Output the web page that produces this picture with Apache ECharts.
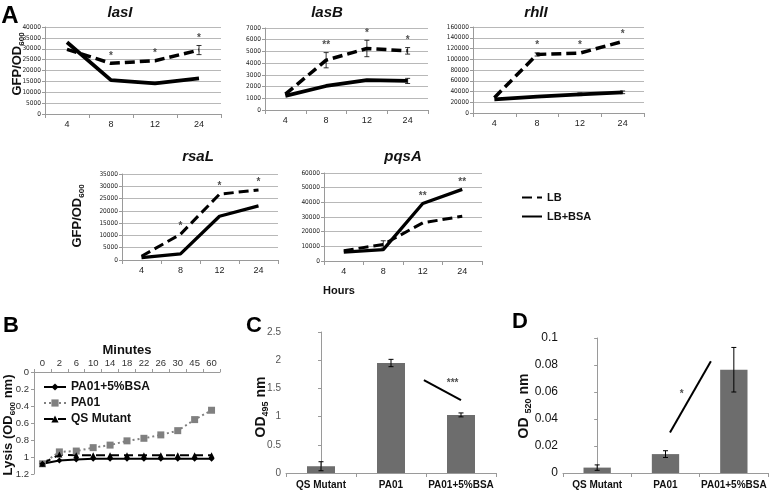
<!DOCTYPE html>
<html><head><meta charset="utf-8">
<script src="https://cdn.jsdelivr.net/npm/echarts@6/dist/echarts.min.js"></script>
<style>html,body{margin:0;padding:0;background:#fff}#c{width:774px;height:490px}</style>
</head><body><div id="c"></div>
<script>
// ---------- DATA ----------
const hours = ['4', '8', '12', '24'];
// Panel A (GFP/OD600)
const lasI_LB = [29700, 23300, 24500, 29400];
const lasI_LB_err = [0, 0, 0, 2100];
const lasI_BSA = [33000, 15600, 14100, 16400];
const lasI_BSA_err = [0, 0, 0, 0];
const lasI_stars = ['', '*', '*', '*'];

const lasB_LB = [1350, 4250, 5250, 5050];
const lasB_LB_err = [0, 650, 700, 280];
const lasB_BSA = [1200, 2050, 2550, 2480];
const lasB_BSA_err = [0, 0, 0, 220];
const lasB_stars = ['', '**', '*', '*'];

const rhlI_LB = [28500, 109000, 111500, 133000];
const rhlI_LB_err = [0, 3000, 0, 0];
const rhlI_BSA = [25500, 30500, 34800, 38500];
const rhlI_BSA_err = [0, 0, 2500, 2500];
const rhlI_stars = ['', '*', '*', '*'];

const rsaL_LB = [1500, 10500, 26800, 28500];
const rsaL_LB_err = [0, 0, 0, 0];
const rsaL_BSA = [1000, 2500, 17800, 22000];
const rsaL_BSA_err = [0, 0, 0, 0];
const rsaL_stars = ['', '*', '*', '*'];

const pqsA_LB = [7000, 11300, 26000, 30500];
const pqsA_LB_err = [0, 2500, 0, 0];
const pqsA_BSA = [6000, 7800, 39200, 48800];
const pqsA_BSA_err = [0, 0, 0, 0];
const pqsA_stars = ['', '', '**', '**'];

// Panel B (lysis, OD600)
const minutes = ['0', '2', '6', '10', '14', '18', '22', '26', '30', '45', '60'];
const lysis_BSA = [1.08, 1.04, 1.03, 1.02, 1.02, 1.02, 1.02, 1.02, 1.02, 1.02, 1.02];
const lysis_PA01 = [1.08, 0.94, 0.93, 0.89, 0.86, 0.81, 0.78, 0.74, 0.69, 0.56, 0.45];
const lysis_QS = [1.08, 0.97, 0.98, 0.98, 0.98, 0.98, 0.98, 0.98, 0.98, 0.98, 0.98];

// Panels C and D
const strains = ['QS Mutant', 'PA01', 'PA01+5%BSA'];
const od495 = [0.12, 1.95, 1.03];
const od495_err = [0.08, 0.065, 0.035];
const od495_sigLine = [[1.47, 1.645], [2.0, 1.29]];
const od495_sigStar = [1.88, 1.6];
const od495_sigText = '***';
const od520 = [0.004, 0.014, 0.0765];
const od520_err = [0.002, 0.0025, 0.0165];
const od520_sigLine = [[1.066, 0.030], [1.664, 0.0828]];
const od520_sigStar = [1.236, 0.058];
const od520_sigText = '*';

// ---------- CHART ----------
const FONT = '"Liberation Sans", Arial, Helvetica, sans-serif';
const NARROW = '"Liberation Sans Narrow", "DejaVu Sans Condensed", "Liberation Sans", Arial, sans-serif';
const chart = echarts.init(document.getElementById('c'), null, {renderer: 'canvas'});

const panelsA = [
  {name: 'lasI', lb: lasI_LB, lbErr: lasI_LB_err, bsa: lasI_BSA, bsaErr: lasI_BSA_err, stars: lasI_stars, starOn: 'lb', max: 40000, interval: 5000,
   grid: {left: 45, top: 27, width: 176, height: 87}, tx: 120, ty: 13, w: 3.5},
  {name: 'lasB', lb: lasB_LB, lbErr: lasB_LB_err, bsa: lasB_BSA, bsaErr: lasB_BSA_err, stars: lasB_stars, starOn: 'lb', max: 7000, interval: 1000,
   grid: {left: 265, top: 28, width: 163, height: 82}, tx: 327, ty: 13, w: 3.5},
  {name: 'rhlI', lb: rhlI_LB, lbErr: rhlI_LB_err, bsa: rhlI_BSA, bsaErr: rhlI_BSA_err, stars: rhlI_stars, starOn: 'lb', max: 160000, interval: 20000,
   grid: {left: 473, top: 27, width: 171, height: 86}, tx: 536, ty: 13, w: 3.5},
  {name: 'rsaL', lb: rsaL_LB, lbErr: rsaL_LB_err, bsa: rsaL_BSA, bsaErr: rsaL_BSA_err, stars: rsaL_stars, starOn: 'lb', max: 35000, interval: 5000,
   grid: {left: 122, top: 174, width: 156, height: 86}, tx: 198, ty: 157, w: 3},
  {name: 'pqsA', lb: pqsA_LB, lbErr: pqsA_LB_err, bsa: pqsA_BSA, bsaErr: pqsA_BSA_err, stars: pqsA_stars, starOn: 'bsa', max: 60000, interval: 10000,
   grid: {left: 324, top: 173, width: 158, height: 88}, tx: 403, ty: 157, w: 3}
];

function errRender(capW, lw) {
  return function (params, api) {
    const x = api.value(0), lo = api.value(1), hi = api.value(2);
    const a = api.coord([x, hi]), b = api.coord([x, lo]);
    const st = {stroke: '#000', lineWidth: lw};
    return {type: 'group', children: [
      {type: 'line', shape: {x1: a[0], y1: a[1], x2: b[0], y2: b[1]}, style: st},
      {type: 'line', shape: {x1: a[0] - capW, y1: a[1], x2: a[0] + capW, y2: a[1]}, style: st},
      {type: 'line', shape: {x1: b[0] - capW, y1: b[1], x2: b[0] + capW, y2: b[1]}, style: st}
    ]};
  };
}
function errData(vals, errs) {
  const out = [];
  vals.forEach((v, i) => { if (errs[i] > 0) out.push([i, v - errs[i], v + errs[i]]); });
  return out;
}
const plain = v => String(v);

const grids = [], xAxes = [], yAxes = [], series = [], graphics = [];
const gridColor = '#b8b8b8', axisColor = '#9a9a9a';

panelsA.forEach((p, k) => {
  grids.push(p.grid);
  xAxes.push({type: 'category', gridIndex: k, data: hours, boundaryGap: true,
    axisLine: {lineStyle: {color: axisColor}}, axisTick: {show: true, interval: 0, length: 4, lineStyle: {color: axisColor}},
    axisLabel: {fontSize: 9, color: '#222', margin: 6, fontFamily: FONT, interval: 0}, splitLine: {show: false}});
  yAxes.push({type: 'value', gridIndex: k, min: 0, max: p.max, interval: p.interval,
    axisLine: {show: true, lineStyle: {color: axisColor}}, axisTick: {show: true, length: 3, lineStyle: {color: axisColor}},
    axisLabel: {fontSize: 6.5, color: '#222', margin: 4, fontFamily: NARROW, formatter: plain},
    splitLine: {show: true, lineStyle: {color: gridColor, width: 1}}});
  series.push({type: 'line', name: 'LB', xAxisIndex: k, yAxisIndex: k, data: p.lb, symbol: 'none', color: '#000',
    lineStyle: {color: '#000', width: p.w, type: [10, 5], cap: 'butt'}, z: 3});
  series.push({type: 'line', name: 'LB+BSA', xAxisIndex: k, yAxisIndex: k, data: p.bsa, symbol: 'none', color: '#000',
    lineStyle: {color: '#000', width: p.w + 0.3}, z: 3});
  series.push({type: 'custom', xAxisIndex: k, yAxisIndex: k, renderItem: errRender(2.5, 0.8),
    data: errData(p.lb, p.lbErr).concat(errData(p.bsa, p.bsaErr)), z: 5, silent: true});
  const sv = p.starOn === 'lb' ? p.lb : p.bsa, se = p.starOn === 'lb' ? p.lbErr : p.bsaErr;
  series.push({type: 'scatter', xAxisIndex: k, yAxisIndex: k, symbolSize: 1, itemStyle: {color: 'rgba(0,0,0,0)'}, silent: true,
    data: sv.map((v, i) => ({value: [i, v + se[i]], label: {formatter: p.stars[i]}})),
    label: {show: true, position: 'top', distance: 2, fontSize: 10, fontWeight: 'bold', color: '#222', fontFamily: FONT}, z: 6});
  graphics.push({type: 'text', x: p.tx, y: p.ty, style: {text: p.name, font: 'italic bold 15px ' + FONT, fill: '#111', align: 'center', verticalAlign: 'middle'}});
});

// Panel B
grids.push({left: 34, top: 372, width: 186, height: 102});
xAxes.push({type: 'category', gridIndex: 5, data: minutes, position: 'top', boundaryGap: true,
  axisLine: {onZero: false, lineStyle: {color: axisColor}}, axisTick: {show: true, interval: 0, length: 3, lineStyle: {color: axisColor}},
  axisLabel: {fontSize: 9.5, color: '#333', margin: 4, fontFamily: FONT, interval: 0}});
yAxes.push({type: 'value', gridIndex: 5, inverse: true, min: 0, max: 1.2, interval: 0.2,
  axisLine: {show: true, lineStyle: {color: axisColor}}, axisTick: {show: true, length: 3, lineStyle: {color: axisColor}},
  axisLabel: {fontSize: 9.5, color: '#333', margin: 5, fontFamily: FONT}, splitLine: {show: false}});
series.push({type: 'line', name: 'PA01', xAxisIndex: 5, yAxisIndex: 5, data: lysis_PA01, symbol: 'rect', symbolSize: 7, color: '#808080',
  itemStyle: {color: '#808080'}, lineStyle: {color: '#808080', width: 2, type: [2, 3]}});
series.push({type: 'line', name: 'QS Mutant', xAxisIndex: 5, yAxisIndex: 5, data: lysis_QS, symbol: 'triangle', symbolSize: 6, color: '#000',
  itemStyle: {color: '#000'}, lineStyle: {color: '#000', width: 2, type: [9, 5]}});
series.push({type: 'line', name: 'PA01+5%BSA', xAxisIndex: 5, yAxisIndex: 5, data: lysis_BSA, symbol: 'diamond', symbolSize: 6, color: '#000',
  itemStyle: {color: '#000'}, lineStyle: {color: '#000', width: 2}});

// Panels C and D
const barColor = '#6d6d6d';
[{gi: 6, grid: {left: 286, top: 332, width: 210, height: 141}, vals: od495, errs: od495_err, max: 2.5, interval: 0.5, lblSize: 10, lblColor: '#555'},
 {gi: 7, grid: {left: 563, top: 338, width: 205, height: 137}, vals: od520, errs: od520_err, max: 0.1, interval: 0.02, lblSize: 12, lblColor: '#111'}
].forEach((p) => {
  grids.push(p.grid);
  xAxes.push({type: 'category', gridIndex: p.gi, data: strains, boundaryGap: true,
    axisLine: {lineStyle: {color: axisColor}}, axisTick: {show: true, interval: 0, length: 4, lineStyle: {color: axisColor}},
    axisLabel: {fontSize: 10, fontWeight: 'bold', color: '#111', margin: 7, fontFamily: FONT, interval: 0}});
  yAxes.push({type: 'value', gridIndex: p.gi, min: 0, max: p.max, interval: p.interval,
    axisLine: {show: true, lineStyle: {color: axisColor}}, axisTick: {show: true, length: 3, lineStyle: {color: axisColor}},
    axisLabel: {fontSize: p.lblSize, color: p.lblColor, margin: 5, fontFamily: FONT}, splitLine: {show: false}});
  series.push({type: 'bar', xAxisIndex: p.gi, yAxisIndex: p.gi, data: p.vals, barWidth: '40%', itemStyle: {color: barColor}});
  series.push({type: 'custom', xAxisIndex: p.gi, yAxisIndex: p.gi, renderItem: errRender(2.5, 1), data: errData(p.vals, p.errs), z: 5});
});
// hidden value axes for significance annotations
xAxes.push({type: 'value', gridIndex: 6, min: -0.5, max: 2.5, show: false});
xAxes.push({type: 'value', gridIndex: 7, min: -0.5, max: 2.5, show: false});
series.push({type: 'line', xAxisIndex: 8, yAxisIndex: 6, data: od495_sigLine, symbol: 'none', lineStyle: {color: '#000', width: 2}, silent: true});
series.push({type: 'scatter', xAxisIndex: 8, yAxisIndex: 6, data: [od495_sigStar], symbolSize: 1, itemStyle: {color: 'rgba(0,0,0,0)'},
  label: {show: true, position: 'inside', formatter: od495_sigText, fontSize: 10, fontWeight: 'bold', color: '#222', fontFamily: FONT}});
series.push({type: 'line', xAxisIndex: 9, yAxisIndex: 7, data: od520_sigLine, symbol: 'none', lineStyle: {color: '#000', width: 2}, silent: true});
series.push({type: 'scatter', xAxisIndex: 9, yAxisIndex: 7, data: [od520_sigStar], symbolSize: 1, itemStyle: {color: 'rgba(0,0,0,0)'},
  label: {show: true, position: 'inside', formatter: od520_sigText, fontSize: 10, fontWeight: 'bold', color: '#222', fontFamily: FONT}});

// free texts
function rot(x, y, parts, size) {
  return {type: 'text', x: x, y: y, rotation: Math.PI / 2,
    style: {text: parts, align: 'center', verticalAlign: 'middle', fill: '#111',
      font: 'bold ' + size + 'px ' + FONT,
      rich: {a: {font: 'bold ' + size + 'px ' + FONT, fill: '#111', lineHeight: size + 4},
             s: {font: 'bold ' + Math.round(size * 0.65) + 'px ' + FONT, fill: '#111', verticalAlign: 'bottom', lineHeight: size + 4}}}};
}
graphics.push(
  {type: 'text', x: 10, y: 16, style: {text: 'A', font: 'bold 24px ' + FONT, fill: '#000', align: 'center', verticalAlign: 'middle'}},
  {type: 'text', x: 11, y: 326, style: {text: 'B', font: 'bold 22px ' + FONT, fill: '#000', align: 'center', verticalAlign: 'middle'}},
  {type: 'text', x: 254, y: 326, style: {text: 'C', font: 'bold 22px ' + FONT, fill: '#000', align: 'center', verticalAlign: 'middle'}},
  {type: 'text', x: 520, y: 322, style: {text: 'D', font: 'bold 22px ' + FONT, fill: '#000', align: 'center', verticalAlign: 'middle'}},
  {type: 'text', x: 339, y: 291, style: {text: 'Hours', font: 'bold 11px ' + FONT, fill: '#111', align: 'center', verticalAlign: 'middle'}},
  {type: 'text', x: 127, y: 350, style: {text: 'Minutes', font: 'bold 13px ' + FONT, fill: '#111', align: 'center', verticalAlign: 'middle'}},
  rot(17, 64, '{a|GFP/OD}{s|600}', 13),
  rot(77, 216, '{a|GFP/OD}{s|600}', 13),
  rot(8, 425, '{a|Lysis (OD}{s|600}{a| nm)}', 13),
  rot(261, 407, '{a|OD}{s|495}{a| nm}', 14),
  rot(524, 406, '{a|OD }{s|520}{a| nm}', 14)
);

chart.setOption({
  animation: false,
  backgroundColor: '#fff',
  textStyle: {fontFamily: FONT},
  grid: grids, xAxis: xAxes, yAxis: yAxes, series: series,
  legend: [
    {data: ['LB', 'LB+BSA'], orient: 'vertical', left: 516, top: 187, itemWidth: 20, itemHeight: 8, itemGap: 8,
     itemStyle: {opacity: 0},
     textStyle: {fontSize: 11, fontWeight: 'bold', color: '#111', fontFamily: FONT}, selectedMode: false},
    {data: ['PA01+5%BSA', 'PA01', 'QS Mutant'], orient: 'vertical', left: 38, top: 376, itemWidth: 22, itemHeight: 9, itemGap: 4,
     textStyle: {fontSize: 12, fontWeight: 'bold', color: '#111', fontFamily: FONT}, selectedMode: false}
  ],
  graphic: graphics
});
</script></body></html>
